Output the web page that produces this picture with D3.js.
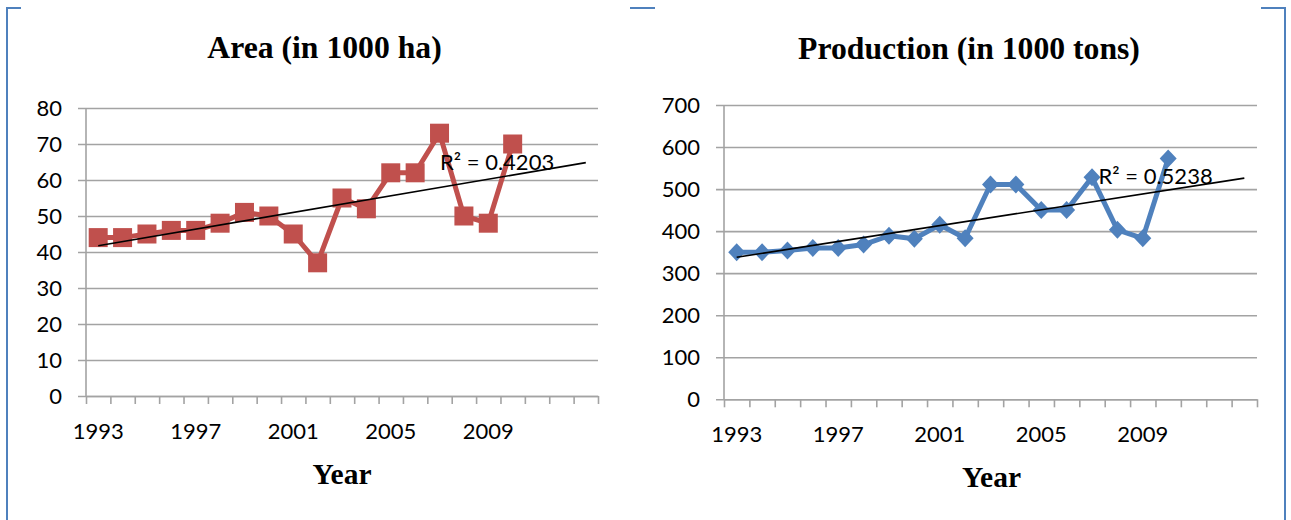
<!DOCTYPE html>
<html>
<head>
<meta charset="utf-8">
<script src="https://cdn.jsdelivr.net/npm/d3@7/dist/d3.min.js"></script>
<style>
  html, body { margin: 0; padding: 0; background: #fff; }
  svg { display: block; }
  .tick text { font-family: Lato, "Open Sans", sans-serif; font-size: 22px; fill: #000; }
  .title, .axis-title { font-family: "Liberation Serif", "Times New Roman", serif; font-weight: bold; fill: #000; }
</style>
</head>
<body>
<svg id="chart" width="1291" height="520"></svg>
<script>
// Yearly series, 1993–2010
const years = [1993, 1994, 1995, 1996, 1997, 1998, 1999, 2000, 2001,
               2002, 2003, 2004, 2005, 2006, 2007, 2008, 2009, 2010];
const areaValues = [44, 44, 45, 46, 46, 48, 51, 50, 45,
                    37, 55, 52, 62, 62, 73, 50, 48, 70];
const productionValues = [350, 350, 354, 360, 360, 368, 389, 382, 415,
                          383, 511, 511, 450, 450, 528, 403, 383, 573];

// Axis ticks and labels
const areaTicks = [0, 10, 20, 30, 40, 50, 60, 70, 80];
const productionTicks = [0, 100, 200, 300, 400, 500, 600, 700];
const yearLabels = [1993, 1997, 2001, 2005, 2009];
const forecastPeriods = 3;

// Titles and fit labels
const titles = ["Area (in 1000 ha)", "Production (in 1000 tons)"];
const xTitle = "Year";
const r2Labels = ["R\u00B2 = 0.4203", "R\u00B2 = 0.5238"];

const svg = d3.select("#chart");
const gridColor = "#a3a3a3";

// Page frame fragments
const frameColor = "#4f81bd";
const frame = svg.append("g").attr("stroke", frameColor).attr("stroke-width", 2).attr("fill", "none");
frame.append("path").attr("d", "M7,520 V8 H21");
frame.append("path").attr("d", "M630,8 H655");
frame.append("path").attr("d", "M1261,8 H1285 V520");

function linearFit(xs, ys) {
  const mx = d3.mean(xs), my = d3.mean(ys);
  const sxy = d3.sum(xs, (x, i) => (x - mx) * (ys[i] - my));
  const sxx = d3.sum(xs, x => (x - mx) * (x - mx));
  const slope = sxy / sxx;
  return { slope, intercept: my - slope * mx };
}

function drawPanel(opts) {
  const { left, right, top, bottom, values, ticks, color, marker,
          title, titleX, titleY, xTitleX, xTitleY, r2, r2X, r2Y } = opts;
  const slots = years.length + forecastPeriods;
  const g = svg.append("g");

  const x = d3.scaleLinear().domain([0, slots]).range([left, right]);
  const y = d3.scaleLinear().domain([0, d3.max(ticks)]).range([bottom, top]);
  const cx = i => x(i + 0.5);

  // horizontal gridlines with outward tick stubs and value labels
  const yAxis = d3.axisLeft(y).tickValues(ticks)
    .tickSizeInner(-(right - left + 8)).tickSizeOuter(0).tickPadding(16);
  const yg = g.append("g").attr("transform", `translate(${left - 8},0)`).call(yAxis);
  yg.select(".domain").remove();
  yg.selectAll(".tick line").attr("stroke", gridColor).attr("stroke-width", 1.6);

  // vertical axis line
  g.append("line").attr("x1", left).attr("x2", left).attr("y1", y(d3.max(ticks))).attr("y2", bottom)
    .attr("stroke", gridColor).attr("stroke-width", 1.6);

  // category axis with a tick at each slot boundary
  const xAxis = d3.axisBottom(x).tickValues(d3.range(slots + 1)).tickFormat("")
    .tickSizeInner(8).tickSizeOuter(0);
  const xg = g.append("g").attr("transform", `translate(0,${bottom})`).call(xAxis);
  xg.select(".domain").attr("stroke", gridColor).attr("stroke-width", 1.6);
  xg.selectAll(".tick line").attr("stroke", gridColor).attr("stroke-width", 1.6);

  // year labels under every fourth category
  g.append("g").selectAll("text").data(yearLabels).join("text")
    .attr("class", "tick").attr("x", d => cx(years.indexOf(d))).attr("y", bottom + 43)
    .attr("text-anchor", "middle")
    .style("font-family", "Lato, 'Open Sans', sans-serif").style("font-size", "22px")
    .text(d => d);

  // data line
  const line = d3.line().x((d, i) => cx(i)).y(d => y(d));
  g.append("path").datum(values).attr("d", line)
    .attr("fill", "none").attr("stroke", color).attr("stroke-width", 5)
    .attr("stroke-linejoin", "round");

  // markers
  const mg = g.append("g").attr("fill", color);
  if (marker === "square") {
    const s = 19;
    mg.selectAll("rect").data(values).join("rect")
      .attr("x", (d, i) => cx(i) - s / 2).attr("y", d => y(d) - s / 2)
      .attr("width", s).attr("height", s);
  } else {
    const hw = 8.5, hh = 9;
    mg.selectAll("path").data(values).join("path")
      .attr("d", (d, i) => {
        const px = cx(i), py = y(d);
        return `M${px},${py - hh}L${px + hw},${py}L${px},${py + hh}L${px - hw},${py}Z`;
      });
  }

  // least-squares trend, extended over the forecast periods
  const xs = values.map((d, i) => i + 1);
  const fit = linearFit(xs, values);
  const tx0 = 1, tx1 = years.length + forecastPeriods;
  g.append("line")
    .attr("x1", cx(tx0 - 1)).attr("y1", y(fit.intercept + fit.slope * tx0))
    .attr("x2", cx(tx1 - 1)).attr("y2", y(fit.intercept + fit.slope * tx1))
    .attr("stroke", "#000").attr("stroke-width", 1.6);

  g.append("text").attr("x", r2X).attr("y", r2Y)
    .style("font-family", "Lato, 'Open Sans', sans-serif").style("font-size", "22px")
    .text(r2);

  // titles
  g.append("text").attr("class", "title").attr("x", titleX).attr("y", titleY)
    .attr("text-anchor", "middle").style("font-size", "31.7px").text(title);
  g.append("text").attr("class", "axis-title").attr("x", xTitleX).attr("y", xTitleY)
    .attr("text-anchor", "middle").style("font-size", "29.5px").text(xTitle);
}

drawPanel({
  left: 86, right: 598, top: 108, bottom: 396,
  values: areaValues, ticks: areaTicks, color: "#c0504d", marker: "square",
  title: titles[0], titleX: 324.5, titleY: 57.5,
  xTitleX: 342, xTitleY: 483.5,
  r2: r2Labels[0], r2X: 440, r2Y: 170
});

drawPanel({
  left: 724, right: 1257, top: 105, bottom: 399.3,
  values: productionValues, ticks: productionTicks, color: "#4f81bd", marker: "diamond",
  title: titles[1], titleX: 969, titleY: 59,
  xTitleX: 991.5, xTitleY: 486.5,
  r2: r2Labels[1], r2X: 1098.5, r2Y: 183.5
});
</script>
</body>
</html>
